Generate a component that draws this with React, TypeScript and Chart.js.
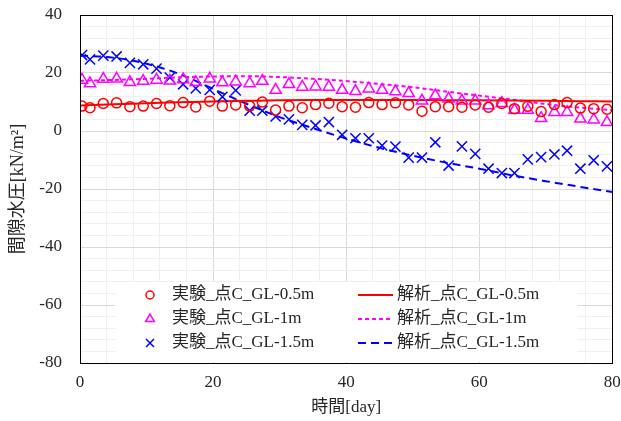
import { useEffect, useRef } from 'react';
import { Chart, registerables } from 'chart.js';

Chart.register(...registerables);

const FONT = "'Liberation Serif', 'Times New Roman', 'Noto Sans CJK JP', serif";
const TEXT = '#262626';

// Measurement days (experiment)
const expDays = [
  0.3, 1.5, 3.5, 5.5, 7.5, 9.5, 11.5, 13.5, 15.5, 17.4, 19.5, 21.4, 23.4, 25.5,
  27.4, 29.4, 31.4, 33.4, 35.4, 37.4, 39.4, 41.4, 43.4, 45.4, 47.4, 49.4, 51.4,
  53.4, 55.4, 57.4, 59.4, 61.4, 63.4, 65.3, 67.3, 69.3, 71.3, 73.2, 75.2, 77.2, 79.2,
];

// Measured pore water pressure [kN/m2]
const expGL05 = [
  8.6, 8.0, 9.5, 9.7, 8.4, 8.6, 9.5, 8.7, 9.8, 8.3, 10.3, 8.6, 9.0, 8.6,
  10.0, 7.2, 8.6, 8.0, 9.1, 9.6, 8.4, 8.2, 9.8, 9.1, 9.7, 9.0, 6.8,
  8.4, 8.4, 8.2, 9.0, 8.2, 9.5, 7.7, 8.5, 6.7, 9.1, 9.8, 7.9, 7.7, 7.5,
];
const expGL10 = [
  17.6, 16.4, 17.9, 18.0, 16.8, 17.2, 17.6, 17.3, 17.8, 16.8, 18.0, 16.7, 17.0, 16.4,
  17.2, 14.1, 16.1, 15.2, 15.3, 15.2, 14.1, 13.7, 14.6, 14.1, 13.6, 13.0, 10.4,
  12.2, 11.1, 10.4, 10.4, 8.8, 9.6, 7.2, 7.2, 4.4, 6.5, 6.5, 4.2, 3.9, 3.0,
];
const expGL15 = [
  26.2, 24.7, 26.0, 25.7, 23.5, 23.0, 21.5, 18.4, 16.1, 14.7, 14.2, 11.8, 14.0, 7.0,
  7.0, 5.0, 4.0, 2.1, 1.9, 3.1, -1.3, -2.5, -2.5, -5.0, -5.4, -9.2, -9.2,
  -3.9, -11.9, -5.3, -7.9, -13.0, -14.5, -14.5, -9.8, -9.0, -8.1, -6.8, -13.0, -10.1, -12.2,
];

// Analysis results
const anaDays = [0, 5, 10, 15, 20, 25, 30, 35, 40, 45, 50, 55, 60, 65, 70, 75, 80];
const anaGL05 = [8.8, 9.2, 9.6, 9.9, 10.2, 10.4, 10.6, 10.7, 10.7, 10.7, 10.7, 10.6, 10.6, 10.5, 10.4, 10.3, 10.2];
const anaGL10 = [17.3, 17.6, 18.0, 18.5, 18.8, 18.9, 18.6, 18.0, 17.2, 16.2, 15.1, 13.6, 12.2, 10.8, 9.3, 8.1, 7.2];
const anaGL15 = [26.0, 25.3, 23.2, 19.6, 14.5, 9.4, 4.8, 1.0, -2.6, -5.8, -8.5, -10.9, -13.0, -15.3, -17.3, -19.2, -21.0];

const expLabels = ['実験_点C_GL-0.5m', '実験_点C_GL-1m', '実験_点C_GL-1.5m'];
const anaLabels = ['解析_点C_GL-0.5m', '解析_点C_GL-1m', '解析_点C_GL-1.5m'];
const colors = ['#ff0000', '#ff00ff', '#0000ff'];
const markers = ['circle', 'triangle', 'crossRot'];
const markerRadius = [5, 6.5, 7.2];
const dashes: number[][] = [[], [4, 3], [8, 5]];

const toPoints = (xs: number[], ys: number[]) => xs.map((x, i) => ({ x, y: ys[i] }));

function drawMarker(ctx: CanvasRenderingContext2D, style: string, x: number, y: number, color: string) {
  ctx.save();
  ctx.strokeStyle = color;
  ctx.lineWidth = 1.5;
  ctx.beginPath();
  if (style === 'circle') {
    ctx.arc(x, y, 4, 0, Math.PI * 2);
  } else if (style === 'triangle') {
    const r = 5;
    ctx.moveTo(x, y - r);
    ctx.lineTo(x + r * 0.866, y + r * 0.5);
    ctx.lineTo(x - r * 0.866, y + r * 0.5);
    ctx.closePath();
  } else {
    const d = 4;
    ctx.moveTo(x - d, y - d);
    ctx.lineTo(x + d, y + d);
    ctx.moveTo(x + d, y - d);
    ctx.lineTo(x - d, y + d);
  }
  ctx.stroke();
  ctx.restore();
}

const insideLegend = {
  id: 'insideLegend',
  afterDatasetsDraw(chart: any) {
    const { ctx, chartArea: a } = chart;
    const boxL = a.left + 35;
    const boxR = a.right - 35;
    const boxT = a.bottom - 81;
    const boxB = a.bottom - 1;
    ctx.save();
    ctx.fillStyle = '#ffffff';
    ctx.fillRect(boxL, boxT, boxR - boxL, boxB - boxT);
    ctx.font = `17px ${FONT}`;
    ctx.textBaseline = 'middle';
    ctx.textAlign = 'left';
    const ds = chart.data.datasets;
    for (let r = 0; r < 3; r++) {
      const y = boxT + 13 + r * 24;
      const e = ds[r];
      drawMarker(ctx, e.pointStyle, boxL + 35, y, e.borderColor);
      ctx.fillStyle = TEXT;
      ctx.fillText(e.label, boxL + 57, y);
      const l = ds[r + 3];
      ctx.strokeStyle = l.borderColor;
      ctx.lineWidth = 2;
      ctx.setLineDash(l.borderDash || []);
      ctx.beginPath();
      ctx.moveTo(boxL + 243, y);
      ctx.lineTo(boxL + 278, y);
      ctx.stroke();
      ctx.setLineDash([]);
      ctx.fillText(l.label, boxL + 282, y);
    }
    ctx.restore();
  },
  afterDraw(chart: any) {
    const { ctx, chartArea: a } = chart;
    ctx.save();
    ctx.strokeStyle = '#000000';
    ctx.lineWidth = 1;
    ctx.strokeRect(Math.round(a.left) + 0.5, Math.round(a.top) + 0.5, Math.round(a.right - a.left), Math.round(a.bottom - a.top));
    ctx.restore();
  },
};

const gridColor = (c: any) =>
  c.tick && Math.round(c.tick.value) % 20 === 0 ? '#d9d9d9' : '#efefef';
const tickLabel = (v: any) => (Math.round(Number(v)) % 20 === 0 ? String(Math.round(Number(v))) : '');

export default function App() {
  const ref = useRef<HTMLCanvasElement>(null);

  useEffect(() => {
    if (!ref.current) return;
    const expSets = [expGL05, expGL10, expGL15].map((vals, i) => ({
      label: expLabels[i],
      data: toPoints(expDays, vals),
      showLine: false,
      pointStyle: markers[i],
      pointRadius: markerRadius[i],
      pointBorderWidth: 1.5,
      borderColor: colors[i],
      pointBorderColor: colors[i],
      backgroundColor: 'rgba(0,0,0,0)',
      pointBackgroundColor: 'rgba(0,0,0,0)',
    }));
    const anaSets = [anaGL05, anaGL10, anaGL15].map((vals, i) => ({
      label: anaLabels[i],
      data: toPoints(anaDays, vals),
      showLine: true,
      pointRadius: 0,
      borderWidth: 2,
      borderColor: colors[i],
      backgroundColor: colors[i],
      borderDash: dashes[i],
      cubicInterpolationMode: 'monotone' as const,
    }));

    const chart = new Chart(ref.current, {
      type: 'scatter',
      data: { datasets: [...expSets, ...anaSets] as any },
      options: {
        responsive: false,
        animation: false,
        devicePixelRatio: 1,
        layout: { padding: { top: 15, right: 8, left: 0, bottom: 0 } },
        plugins: { legend: { display: false }, tooltip: { enabled: false } },
        scales: {
          x: {
            type: 'linear',
            min: 0,
            max: 80,
            afterFit: (s: any) => {
              s.height = 58;
              s.paddingLeft = 0;
              s.paddingRight = 0;
            },
            ticks: {
              stepSize: 4,
              autoSkip: false,
              maxRotation: 0,
              padding: 9,
              color: TEXT,
              font: { family: FONT, size: 17 },
              callback: tickLabel,
            },
            grid: { color: gridColor, drawTicks: false, lineWidth: 1 },
            border: { display: false },
            title: {
              display: true,
              text: '時間[day]',
              color: TEXT,
              font: { family: FONT, size: 17 },
              padding: { top: 0, bottom: 3 },
            },
          },
          y: {
            type: 'linear',
            min: -80,
            max: 40,
            afterFit: (s: any) => {
              s.width = 80;
              s.paddingTop = 0;
              s.paddingBottom = 0;
            },
            ticks: {
              stepSize: 4,
              autoSkip: false,
              padding: 18,
              color: TEXT,
              font: { family: FONT, size: 17 },
              callback: tickLabel,
            },
            grid: { color: gridColor, drawTicks: false, lineWidth: 1 },
            border: { display: false },
            title: {
              display: true,
              text: '間隙水圧[kN/m²]',
              color: TEXT,
              font: { family: FONT, size: 18 },
              padding: { top: 7, bottom: 0 },
            },
          },
        },
      },
      plugins: [insideLegend],
    });
    return () => chart.destroy();
  }, []);

  return (
    <div style={{ position: 'fixed', left: 0, top: 0, width: 621, height: 421, background: '#fff' }}>
      <canvas ref={ref} width={621} height={421} style={{ display: 'block' }} />
    </div>
  );
}
